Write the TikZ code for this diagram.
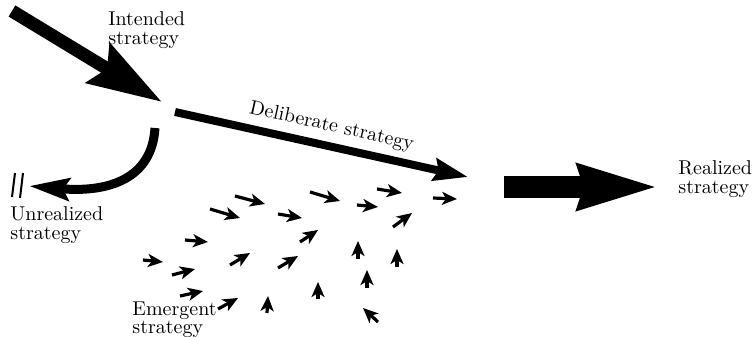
\documentclass[tikz,border=0pt]{standalone}
\usetikzlibrary{arrows.meta}

\begin{document}
\begin{tikzpicture}[x=0.5pt, y=-0.5pt,
        strategy/.style={align=left, anchor=north west, inner sep=0pt, font=\fontsize{10}{9.6}\selectfont},
        dart/.style={line width=1.6pt, -{Stealth[length=7.5pt, width=6.5pt, inset=2pt]}}]
        \useasboundingbox (0,0) rectangle (755,337);

        % --- Intended strategy ---
        \coordinate (intendedStart) at (12,11);
        \coordinate (intendedEnd) at (162,102);
        \draw[line width=6.5pt, -{Stealth[length=37pt, width=22.5pt, inset=5pt]}] (intendedStart) -- (intendedEnd);
        \node[strategy] (intended) at (108,11) {Intended\\strategy};
        % ---

        % --- Deliberate strategy ---
        \coordinate (deliberateStart) at (175,112);
        \coordinate (deliberateEnd) at (468,177);
        \draw[line width=4pt, -{Stealth[length=17pt, width=11pt, inset=2pt]}] (deliberateStart) -- node[sloped, above=0pt, pos=0.52, font=\fontsize{10}{8}\selectfont] (deliberate) {Deliberate strategy} (deliberateEnd);
        % ---

        % --- Realized strategy ---
        \coordinate (realizedStart) at (504,187);
        \coordinate (realizedEnd) at (660,187);
        \draw[line width=11pt, -{Stealth[length=40pt, width=21pt, inset=2pt]}] (realizedStart) -- (realizedEnd);
        \node[strategy] (realized) at (678,160) {Realized\\strategy};
        % ---

        % --- Unrealized strategy ---
        \coordinate (unrealizedStart) at (155,128);
        \coordinate (unrealizedEnd) at (29,186);
        \draw[line width=4.5pt, -{Stealth[length=20pt, width=11pt, inset=3pt]}] (unrealizedStart) .. controls (152,178) and (110,193) .. (unrealizedEnd);
        \draw[line width=1pt] (15,173) -- (12,197) (23,173) -- (20,198);
        \node[strategy] (unrealized) at (10,206) {Unrealized\\strategy};
        % ---

        % --- Emergent strategy ---
        \foreach \xa/\ya/\xb/\yb in {235/196/265/204, 210/209/240/218, 310/192/340/201,
                278/214/302/218, 377/189/402/193, 357/205/378/207, 433/198/457/199,
                393/227/412/213, 300/242/318/230, 185/240/208/242, 143/260/163/262,
                172/275/195/269, 230/265/250/253, 278/268/298/256, 358/259/358/241,
                397/267/397/249, 367/288/367/270, 318/299/318/282, 267/313/268/296,
                180/296/203/291, 218/309/238/298, 378/322/363/308}
            \draw[dart] (\xa,\ya) -- (\xb,\yb);
        \node[strategy, font=\fontsize{10}{9}\selectfont] (emergent) at (132,301) {Emergent\\strategy};
        % ---
\end{tikzpicture}
\end{document}
